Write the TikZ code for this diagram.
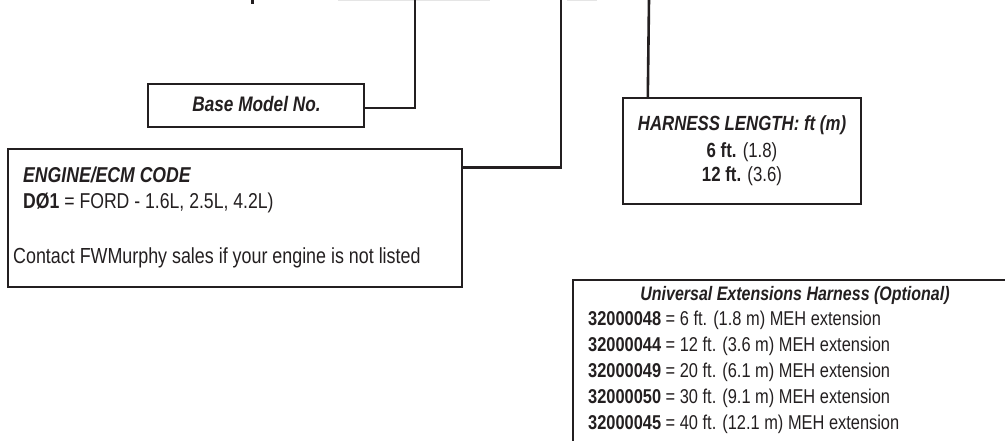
\documentclass[tikz,border=0pt]{standalone}
\usepackage{fontspec}
\setmainfont{Liberation Sans}[FakeStretch=0.82]
\usetikzlibrary{calc}
\definecolor{ink}{HTML}{231F20}
\begin{document}
\begin{tikzpicture}[x=1pt,y=-1pt,
  box/.style={draw=ink,line width=2.4pt,rectangle,inner sep=0pt,fill=none},
  wire/.style={draw=ink,line width=2.6pt},
  txt/.style={inner sep=0pt,text=ink},
  mid/.style={font=\fontsize{20}{24}\selectfont}]
\useasboundingbox (0,0) rectangle (1005,441);
% cut-off fragments at the top edge
\fill[ink] (250.5,0) rectangle (253.5,4);
\draw[gray!20,line width=1pt] (338,0.3) -- (490,0.3);
\draw[gray!20,line width=1pt] (567,0.3) -- (597,0.3);
% top anchors of connectors
\coordinate (t1) at (415,0);
\coordinate (t2) at (561,0);
\coordinate (t3) at (649,0);
% Base model box
\node[box,minimum width=216pt,minimum height=43pt] (base) at (256,105.5) {};
\node[txt,anchor=base,font=\fontsize{21}{25}\selectfont\bfseries\itshape] (basetxt) at (256.5,112) {Base Model No.};
\draw[wire] ([yshift=-2.5pt]base.east) -| (t1);
% Engine box
\node[box,minimum width=454pt,minimum height=138pt] (eng) at (235,218) {};
\node[txt,anchor=base west,font=\fontsize{21.5}{25}\selectfont\bfseries\itshape] (engt) at (23,183) {ENGINE/ECM CODE};
\node[txt,anchor=base west,font=\fontsize{21.5}{25}\selectfont] (engc) at (23,208) {\textbf{DØ1} = FORD - 1.6L, 2.5L, 4.2L)};
\node[txt,anchor=base west,font=\fontsize{21.8}{25}\selectfont] (engn) at (13,263) {Contact FWMurphy sales if your engine is not listed};
\coordinate (engout) at ($(eng.north east)+(0,20)$);
\draw[wire] (engout) -| (t2);
% Harness length box
\node[box,minimum width=238pt,minimum height=106pt] (har) at (742,151) {};
\node[txt,anchor=base,font=\fontsize{20.5}{24}\selectfont\bfseries\itshape] (hart) at (742,131) {HARNESS LENGTH: ft (m)};
\node[txt,anchor=base,font=\fontsize{20.5}{24}\selectfont] (har1) at (742,158) {\textbf{6 ft.} (1.8)};
\node[txt,anchor=base,font=\fontsize{20.5}{24}\selectfont] (har2) at (742,182) {\textbf{12 ft.} (3.6)};
\coordinate (harin) at ($(har.north west)+(26,0)$);
\draw[wire] (harin) -- (t3);
% Universal extensions (open box)
\coordinate (u1) at (573,441);
\coordinate (u2) at (573,280);
\coordinate (u3) at (1005,280);
\draw[box] (u1) -- (u2) -- (u3);
\node[txt,anchor=base,font=\fontsize{19.5}{23}\selectfont\bfseries\itshape] (ut) at (795,300) {Universal Extensions Harness (Optional)};
\node[txt,anchor=base west,mid] (r1) at (588,325) {\textbf{32000048} = 6 ft. (1.8 m) MEH extension};
\node[txt,anchor=base west,mid] (r2) at (588,351) {\textbf{32000044} = 12 ft. (3.6 m) MEH extension};
\node[txt,anchor=base west,mid] (r3) at (588,377) {\textbf{32000049} = 20 ft. (6.1 m) MEH extension};
\node[txt,anchor=base west,mid] (r4) at (588,403) {\textbf{32000050} = 30 ft. (9.1 m) MEH extension};
\node[txt,anchor=base west,mid] (r5) at (588,429) {\textbf{32000045} = 40 ft. (12.1 m) MEH extension};
\end{tikzpicture}
\end{document}
